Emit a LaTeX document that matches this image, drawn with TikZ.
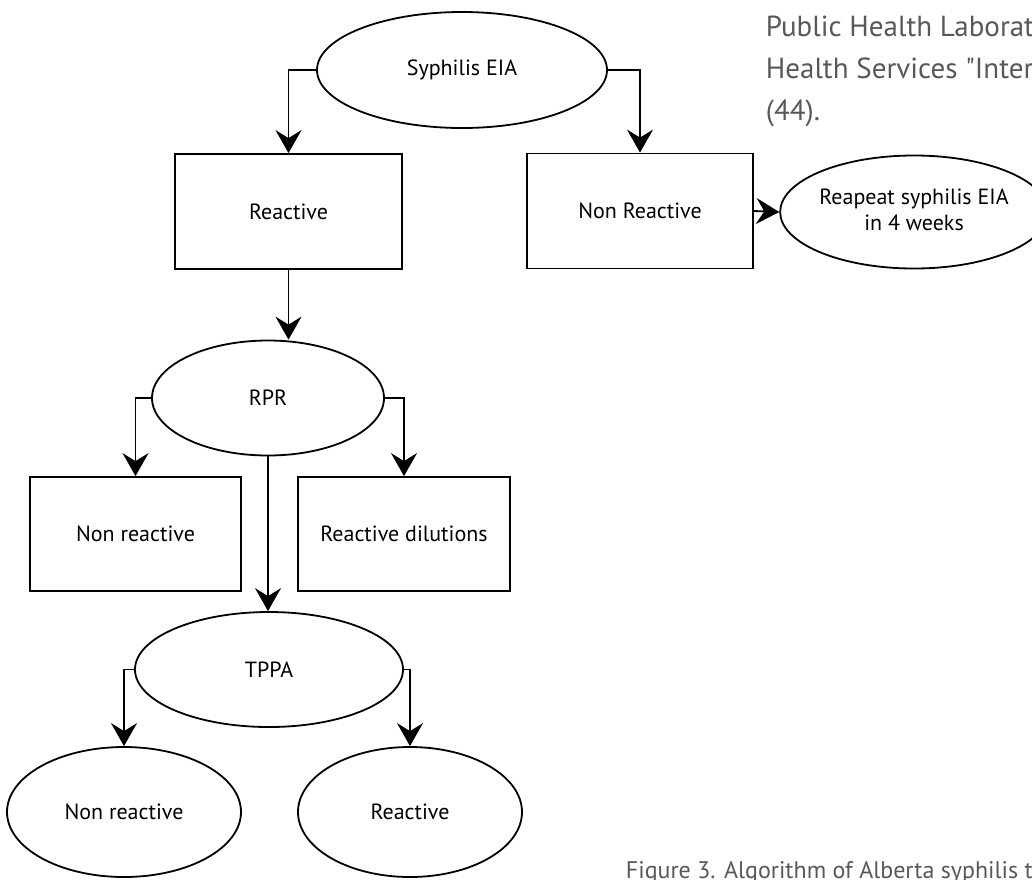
\documentclass[tikz,border=0pt]{standalone}
\usepackage{fontspec}
\setmainfont{PT Sans}
\usetikzlibrary{shapes.geometric, arrows.meta, positioning}
\definecolor{capgray}{RGB}{88,88,88}

\begin{document}
\begin{tikzpicture}[
  x=1pt, y=-1pt,
  font=\fontsize{22}{26}\selectfont,
  line width=1.8pt,
  box/.style={rectangle, draw, minimum width=227pt, minimum height=115pt, inner sep=0pt},
  oval/.style={ellipse, draw, inner sep=0pt, align=center},
  link/.style={-{Stealth[length=23pt, width=26pt, inset=8pt]}}]

  \useasboundingbox (0,0) rectangle (1032,879);
  \clip (0,0) rectangle (1032,879);

  % tests and results
  \node[oval, minimum width=290pt, minimum height=116pt] (eia) at (462,70) {Syphilis EIA};
  \node[box] (reac) at (288.5,211.5) {Reactive};
  \node[box, minimum width=226pt] (nonreac) at (640,211) {Non Reactive};
  \node[oval, minimum width=254pt, minimum height=113pt, text depth=4pt] (rep) at (914,212) {Reapeat syphilis EIA\\in 4 weeks};
  \node[oval, minimum width=232pt, minimum height=115pt] (rpr) at (268,398) {RPR};
  \node[box, minimum width=211pt, minimum height=114pt] (nr1) at (135.5,534) {Non reactive};
  \node[box, minimum width=212pt, minimum height=114pt] (dil) at (404,534) {Reactive dilutions};
  \node[oval, minimum width=268pt, minimum height=115pt] (tppa) at (269,669.5) {TPPA};
  \node[oval, minimum width=234pt, minimum height=130pt] (nr2) at (124,812) {Non reactive};
  \node[oval, minimum width=224pt, minimum height=130pt] (r2) at (410,812) {Reactive};

  % connectors
  \draw[link] (eia.west) -| (reac.north);
  \draw[link] (eia.east) -| (nonreac.north);
  \draw[link] (nonreac.east) -- (rep.west);
  \draw[link] (reac.south) -- (reac.south |- rpr.north);
  \draw[link] (rpr.west) -| (nr1.north);
  \draw[link] (rpr.east) -| (dil.north);
  \draw[link] (rpr.south) -- (rpr.south |- tppa.north);
  \draw[link] (tppa.west) -| (nr2.north);
  \draw[link] (tppa.east) -| (r2.north);

  % surrounding page text
  \node[anchor=base west, align=left, text=capgray, inner sep=0pt,
    font=\fontsize{29}{42}\selectfont] (ref) at (765,120)
    {Public Health Laborat\\Health Services \textquotedbl Inter\\(44).};
  \node[anchor=base west, text=capgray, inner sep=0pt, font=\fontsize{24}{28}\selectfont]
    (cap) at (625,878) {Figure 3. Algorithm of Alberta syphilis t};
\end{tikzpicture}
\end{document}
